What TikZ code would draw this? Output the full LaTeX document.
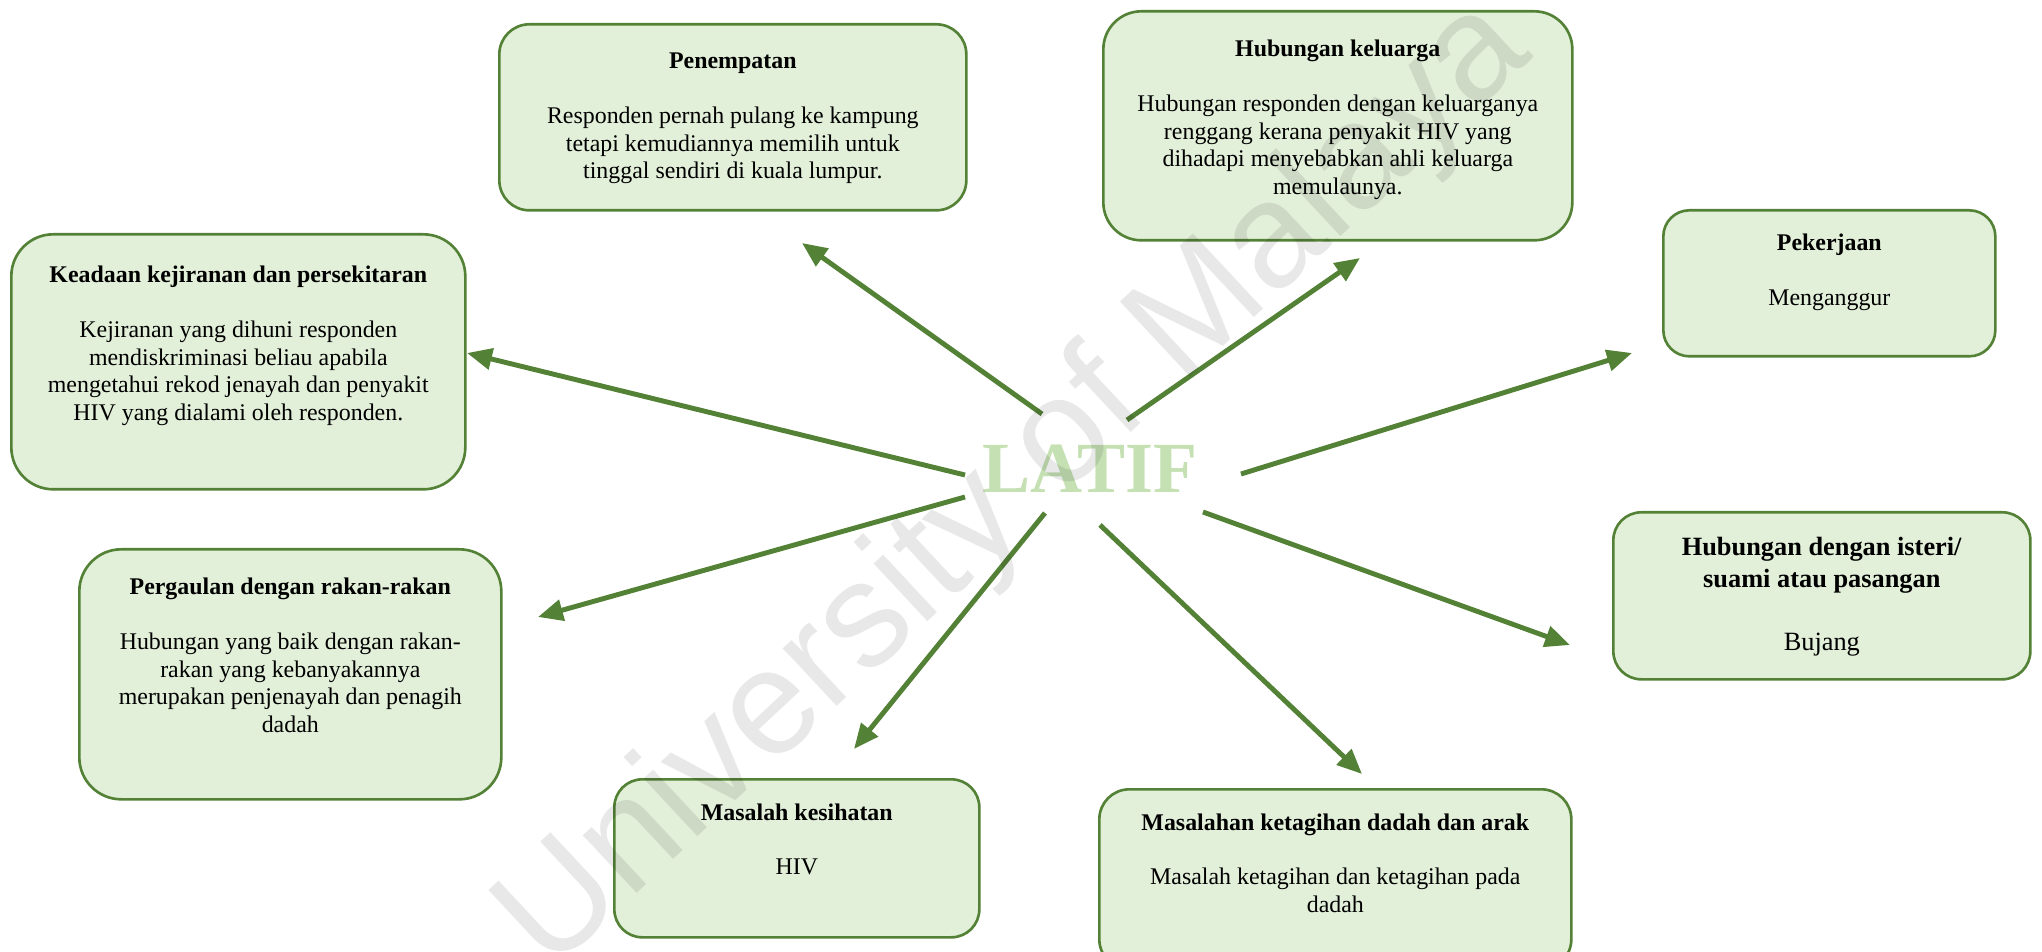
\documentclass[tikz,border=0pt]{standalone}
\usepackage{fontspec}
\setmainfont{Liberation Serif}
\newfontfamily\wmfont{Liberation Sans}
\usetikzlibrary{arrows.meta}

\definecolor{cardline}{HTML}{538135}
\definecolor{cardfill}{HTML}{E2EFD9}
\definecolor{latifgreen}{HTML}{C5E0B3}

\newlength\pxu
\setlength\pxu{0.02cm}
% [top space]{width}{height}{text}
\newcommand{\cardtext}[4][0.43cm]{\parbox[c][#3\pxu][t]{#2\pxu}{\centering\vspace*{#1}\strut #4\par}}

\tikzset{
  card/.style={draw=cardline, fill=cardfill, line width=1.5pt, inner sep=0pt,
    anchor=north west, rounded corners=#1, font=\fontsize{13.6}{15.6}\selectfont},
  card/.default=0.6cm,
  ArrowStyle/.style={draw=cardline, line width=2.8pt,
    -{Triangle[length=0.5cm, width=0.42cm]}},
}

\begin{document}
\begin{tikzpicture}[x=0.02cm, y=-0.02cm]
    \useasboundingbox (0,0) rectangle (2042,952);
    \clip (0,0) rectangle (2042,952);

    % Boxes
    \node[card] (pen) at (498,23) {\cardtext[0.51cm]{467}{186}{\textbf{Penempatan}\\[\baselineskip]
      Responden pernah pulang ke kampung\\tetapi kemudiannya memilih untuk\\tinggal sendiri di kuala lumpur.}};
    \node[card=0.76cm] (kel) at (1102,10) {\cardtext[0.53cm]{469}{229}{\textbf{Hubungan keluarga}\\[\baselineskip]
      Hubungan responden dengan keluarganya\\renggang kerana penyakit HIV yang\\dihadapi menyebabkan ahli keluarga\\memulaunya.}};
    \node[card=0.52cm] (kerja) at (1662,209) {\cardtext{332}{146}{\textbf{Pekerjaan}\\[\baselineskip]
      Menganggur}};
    \node[card=0.84cm] (jiran) at (10,233) {\cardtext[0.59cm]{454}{255}{\textbf{Keadaan kejiranan dan persekitaran}\\[\baselineskip]
      Kejiranan yang dihuni responden\\mendiskriminasi beliau apabila\\mengetahui rekod jenayah dan penyakit\\HIV yang dialami oleh responden.}};
    \node[card=0.84cm] (rakan) at (78,548) {\cardtext[0.53cm]{422}{250}{\textbf{Pergaulan dengan rakan-rakan}\\[\baselineskip]
      Hubungan yang baik dengan rakan-\\rakan yang kebanyakannya\\merupakan penjenayah dan penagih\\dadah}};
    \node[card=0.56cm] (sihat) at (613,778) {\cardtext{365}{158}{\textbf{Masalah kesihatan}\\[\baselineskip]
      HIV}};
    \node[card=0.56cm, font=\fontsize{15}{18}\selectfont] (pasangan) at (1612,511) {\cardtext{417}{167}{\textbf{Hubungan dengan isteri/}\\
      \textbf{suami atau pasangan}\\[\baselineskip]Bujang}};
    \node[card] (ketagih) at (1098,788) {\cardtext{472}{180}{\textbf{Masalahan ketagihan dadah dan arak}\\[\baselineskip]
      Masalah ketagihan dan ketagihan pada\\dadah}};

    % Centre
    \node[font=\fontsize{41}{41}\selectfont\bfseries, text=latifgreen, inner sep=0pt] (latif) at (1090,469) {LATIF};

    % Arrows
    \coordinate (pen-t) at (1042,414);      \coordinate (pen-h) at (802,243);
    \coordinate (kel-t) at (1127,420);      \coordinate (kel-h) at (1360,258);
    \coordinate (kerja-t) at (1241,474);    \coordinate (kerja-h) at (1632,353);
    \coordinate (jiran-t) at (965,475);     \coordinate (jiran-h) at (467,353);
    \coordinate (rakan-t) at (965,497);     \coordinate (rakan-h) at (538,617);
    \coordinate (sihat-t) at (1045,513);    \coordinate (sihat-h) at (854,749);
    \coordinate (ketagih-t) at (1100,525);  \coordinate (ketagih-h) at (1362,774);
    \coordinate (pasangan-t) at (1203,512); \coordinate (pasangan-h) at (1570,645);

    \foreach \n in {pen,kel,kerja,jiran,rakan,sihat,ketagih,pasangan}
      \draw[ArrowStyle] (\n-t) -- (\n-h);

    % Watermark
    \node[font=\wmfont\fontsize{85}{85}\selectfont, text=black, text opacity=0.09,
      rotate=43, inner sep=0pt] (wm) at (1016,487) {University of Malaya};
\end{tikzpicture}
\end{document}
